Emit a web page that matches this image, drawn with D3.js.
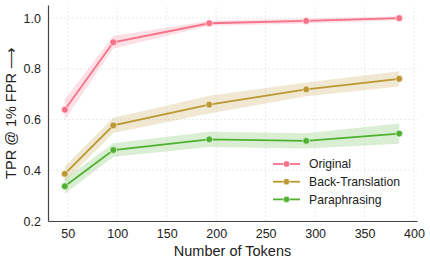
<html lang="en">
<head>
  <meta http-equiv="Content-Type" content="text/html; charset=utf-8" />
  <script src="https://d3js.org/d3.v7.min.js"></script>
  <style>
    body { margin: 0; background: #fff; }
    text { font-family: "Liberation Sans", Arial, sans-serif; }
  </style>
</head>
<body>
  <div id="chart"></div>
  <script>
    const tokens = [47, 96, 193, 291, 385];
    const seriesNames = ["Original", "Back-Translation", "Paraphrasing"];
    const colors = ["#f77189", "#bb9832", "#50b131"];
    const original = [0.639, 0.905, 0.980, 0.989, 1.000];
    const backTranslation = [0.386, 0.577, 0.659, 0.719, 0.761];
    const paraphrasing = [0.337, 0.480, 0.522, 0.516, 0.545];
    // half width of the confidence band at each point
    const originalErr = [0.04, 0.025, 0.01, 0.01, 0.008];
    const backTranslationErr = [0.03, 0.03, 0.035, 0.027, 0.03];
    const paraphrasingErr = [0.03, 0.027, 0.03, 0.03, 0.04];
    const xTicks = [50, 100, 150, 200, 250, 300, 350, 400];
    const yTicks = [0.2, 0.4, 0.6, 0.8, 1.0];

    const series = [
      { name: seriesNames[0], values: original, err: originalErr, color: colors[0] },
      { name: seriesNames[1], values: backTranslation, err: backTranslationErr, color: colors[1] },
      { name: seriesNames[2], values: paraphrasing, err: paraphrasingErr, color: colors[2] }
    ];

    const svgWidth = 430, svgHeight = 263;
    const margin = { top: 5, right: 13, bottom: 42, left: 48 };

    const svg = d3.select("#chart").append("svg")
      .attr("width", svgWidth).attr("height", svgHeight);

    const x = d3.scaleLinear().domain([30, 403]).range([margin.left, svgWidth - margin.right]);
    const y = d3.scaleLinear().domain([0.2, 1.052]).range([svgHeight - margin.bottom, margin.top]);

    // grid
    const grid = svg.append("g");
    grid.selectAll(".gx").data(xTicks).join("line")
      .attr("x1", d => x(d)).attr("x2", d => x(d))
      .attr("y1", y.range()[0]).attr("y2", y.range()[1])
      .attr("stroke", "#e4e4e4").attr("stroke-width", 0.8).attr("stroke-dasharray", "2,2");
    grid.selectAll(".gy").data(yTicks).join("line")
      .attr("x1", x.range()[0]).attr("x2", x.range()[1])
      .attr("y1", d => y(d)).attr("y2", d => y(d))
      .attr("stroke", "#e4e4e4").attr("stroke-width", 0.8).attr("stroke-dasharray", "2,2");

    const area = d3.area()
      .x((d, i) => x(tokens[i]))
      .y0(d => y(d[0] - d[1]))
      .y1(d => y(d[0] + d[1]));
    const line = d3.line().x((d, i) => x(tokens[i])).y(d => y(d));

    series.forEach(s => {
      svg.append("path")
        .datum(s.values.map((v, i) => [v, s.err[i]]))
        .attr("d", area).attr("fill", s.color).attr("opacity", 0.22);
    });
    series.forEach(s => {
      svg.append("path").datum(s.values).attr("d", line)
        .attr("fill", "none").attr("stroke", s.color).attr("stroke-width", 1.8);
      svg.selectAll(null).data(s.values).join("circle")
        .attr("cx", (d, i) => x(tokens[i])).attr("cy", d => y(d)).attr("r", 3.4)
        .attr("fill", s.color).attr("stroke", "#fff").attr("stroke-width", 0.6);
    });

    // axes
    const xAxis = svg.append("g")
      .attr("transform", `translate(0,${y.range()[0]})`)
      .call(d3.axisBottom(x).tickValues(xTicks).tickSize(0).tickPadding(8));
    const yAxis = svg.append("g")
      .attr("transform", `translate(${x.range()[0]},0)`)
      .call(d3.axisLeft(y).tickValues(yTicks).tickSize(0).tickPadding(7).tickFormat(d3.format(".1f")));
    [xAxis, yAxis].forEach(a => {
      a.select(".domain").attr("stroke", "#444").attr("stroke-width", 1.2);
      a.selectAll("text").attr("font-size", 12.5).attr("fill", "#222")
        .attr("font-family", "Liberation Sans, Arial, sans-serif");
    });

    svg.append("text")
      .attr("x", (x.range()[0] + x.range()[1]) / 2).attr("y", 256)
      .attr("text-anchor", "middle").attr("font-size", 14.5).attr("fill", "#222")
      .text("Number of Tokens");
    svg.append("text")
      .attr("transform", `translate(16,${(y.range()[0] + y.range()[1]) / 2}) rotate(-90)`)
      .attr("text-anchor", "middle").attr("font-size", 14.5).attr("fill", "#222")
      .text("TPR @ 1% FPR \u27F6");

    // legend
    const legend = svg.append("g").attr("transform", "translate(273,164)");
    series.forEach((s, i) => {
      const g = legend.append("g").attr("transform", `translate(0,${i * 17.7})`);
      g.append("line").attr("x1", 0).attr("x2", 27).attr("y1", 0).attr("y2", 0)
        .attr("stroke", s.color).attr("stroke-width", 1.8);
      g.append("circle").attr("cx", 13.5).attr("cy", 0).attr("r", 3.2)
        .attr("fill", s.color).attr("stroke", "#fff").attr("stroke-width", 0.6);
      g.append("text").attr("x", 36).attr("y", 4.3).attr("font-size", 12.2).attr("fill", "#222")
        .text(s.name);
    });
  </script>
</body>
</html>
